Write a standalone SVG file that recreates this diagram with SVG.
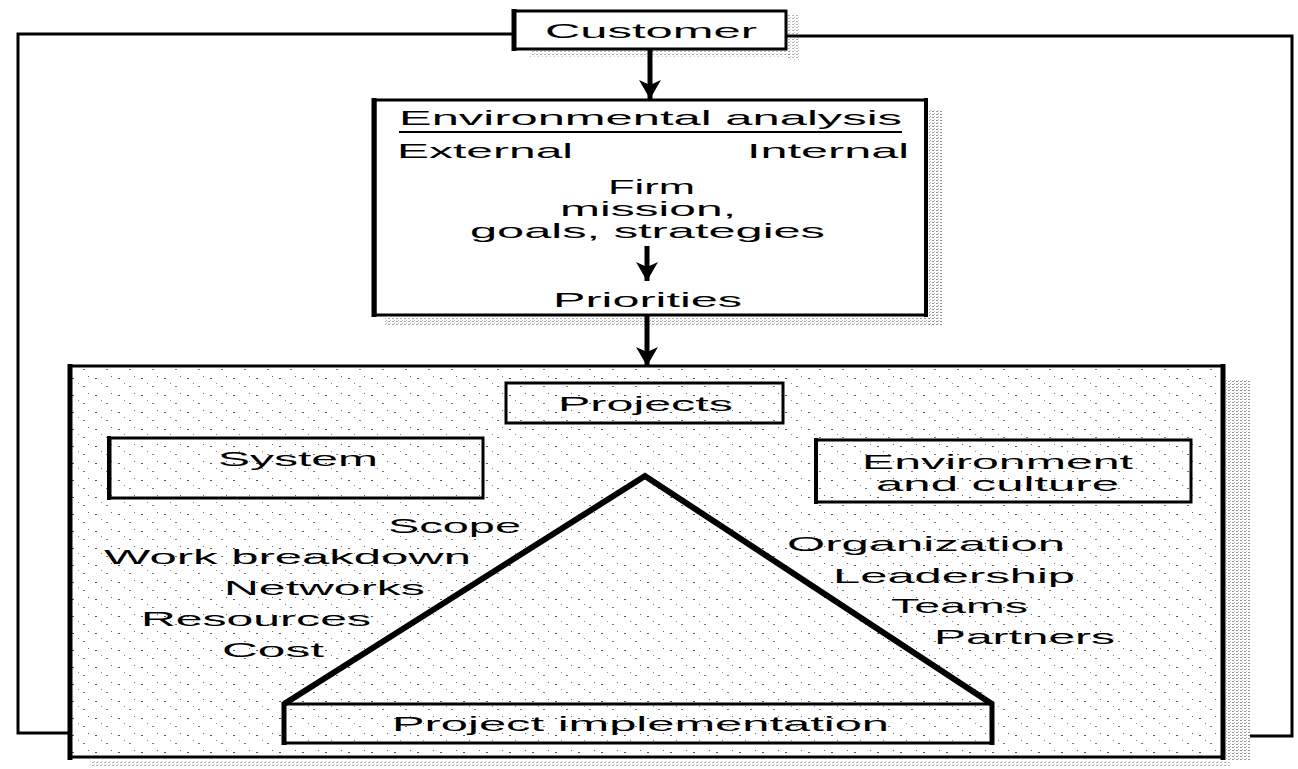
<svg xmlns="http://www.w3.org/2000/svg" width="1298" height="769" viewBox="0 0 1298 769">
<style>
.box{fill:none;stroke:#000;stroke-width:3}
.lbl{font-family:"Liberation Sans",Arial,Helvetica,sans-serif;font-size:21px;fill:#000}
.line{fill:none;stroke:#000;stroke-width:3}
.arr{fill:none;stroke:#000;stroke-width:5;marker-end:url(#ah)}
.tri{fill:none;stroke:#000;stroke-width:6;stroke-linejoin:miter}
</style>
<defs>
<marker id="ah" markerUnits="userSpaceOnUse" markerWidth="26" markerHeight="22" refX="19" refY="11" orient="auto">
<path d="M0,0 L19,11 L0,22 L5,11 z" fill="#000"/>
</marker>
<pattern id="stip" width="23" height="17" patternUnits="userSpaceOnUse">
<rect x="3" y="4" width="2" height="1" fill="#555"/>
<rect x="14" y="12" width="2" height="1" fill="#777"/>
<rect x="19" y="2" width="1" height="1" fill="#666"/>
<rect x="9" y="9" width="1" height="1" fill="#888"/>
</pattern>
<pattern id="shade" width="4" height="3" patternUnits="userSpaceOnUse">
<rect x="0" y="0" width="2" height="1" fill="#666"/>
<rect x="2" y="2" width="1" height="1" fill="#999"/>
</pattern>
</defs>
<rect width="1298" height="769" fill="#fff"/>

<!-- shading strips -->
<rect x="929" y="110" width="13" height="215" fill="url(#shade)" opacity="0.7"/>
<rect x="385" y="318" width="545" height="8" fill="url(#shade)" opacity="0.6"/>
<rect x="1226" y="380" width="24" height="380" fill="url(#shade)" opacity="0.7"/>
<rect x="90" y="760" width="1140" height="6" fill="url(#shade)" opacity="0.5"/>
<rect x="530" y="50" width="260" height="7" fill="url(#shade)" opacity="0.5"/>
<rect x="788" y="15" width="12" height="45" fill="url(#shade)" opacity="0.5"/>

<g id="connectors">
<polyline class="line" points="513,34 18,34 18,733 70,733"/>
<polyline class="line" points="786,36 1292,36 1292,736 1250,736"/>
<line class="arr" x1="650" y1="49" x2="650" y2="99"/>
<line class="arr" x1="647" y1="315" x2="647" y2="366"/>
<line class="arr" x1="644" y1="423" x2="644" y2="474"/>
</g>

<g id="customer">
<rect class="box" x="514" y="11" width="272" height="38" fill="#fff"/>
<line x1="514" y1="9" x2="514" y2="51" stroke="#000" stroke-width="5"/>
<text class="lbl" x="545" y="38" textLength="212" lengthAdjust="spacingAndGlyphs">Customer</text>
</g>

<g id="environmental-analysis">
<rect class="box" x="375" y="100" width="551" height="215" fill="#fff"/>
<line x1="374" y1="98" x2="374" y2="317" stroke="#000" stroke-width="5"/>
<line x1="926" y1="98" x2="926" y2="317" stroke="#000" stroke-width="4"/>
<text class="lbl" x="399" y="125" textLength="503" lengthAdjust="spacingAndGlyphs">Environmental analysis</text>
<line x1="399" y1="132" x2="902" y2="132" stroke="#000" stroke-width="2"/>
<text class="lbl" x="397" y="158" textLength="176" lengthAdjust="spacingAndGlyphs">External</text>
<text class="lbl" x="747" y="158" textLength="162" lengthAdjust="spacingAndGlyphs">Internal</text>
<text class="lbl" x="608" y="194" textLength="87" lengthAdjust="spacingAndGlyphs">Firm</text>
<text class="lbl" x="560" y="216" textLength="176" lengthAdjust="spacingAndGlyphs">mission,</text>
<text class="lbl" x="470" y="238" textLength="355" lengthAdjust="spacingAndGlyphs">goals, strategies</text>
<line class="arr" x1="647" y1="246" x2="647" y2="281"/>
<text class="lbl" x="553" y="307" textLength="189" lengthAdjust="spacingAndGlyphs">Priorities</text>
</g>

<g id="project-area">
<rect x="70" y="366" width="1153" height="391" fill="#fff"/>
<rect x="70" y="366" width="1153" height="391" fill="url(#stip)"/>
<rect class="box" x="70" y="366" width="1153" height="391"/>
<line x1="70" y1="364" x2="70" y2="760" stroke="#000" stroke-width="5"/>
<line x1="1223" y1="364" x2="1223" y2="760" stroke="#000" stroke-width="5"/>
</g>

<g id="projects">
<rect class="box" x="506" y="383" width="277" height="40" fill="#fff"/>
<text class="lbl" x="558" y="411" textLength="175" lengthAdjust="spacingAndGlyphs">Projects</text>
</g>

<g id="system">
<rect class="box" x="110" y="438" width="373" height="60" fill="#fff"/>
<line x1="109" y1="436" x2="109" y2="500" stroke="#000" stroke-width="4"/>
<text class="lbl" x="218" y="466" textLength="160" lengthAdjust="spacingAndGlyphs">System</text>
</g>

<g id="environment-culture">
<rect class="box" x="816" y="440" width="375" height="62" fill="#fff"/>
<line x1="816" y1="438" x2="816" y2="504" stroke="#000" stroke-width="4"/>
<text class="lbl" x="862" y="469" textLength="271" lengthAdjust="spacingAndGlyphs">Environment</text>
<text class="lbl" x="876" y="491" textLength="243" lengthAdjust="spacingAndGlyphs">and culture</text>
</g>

<g id="triangle">
<polyline class="tri" points="284,704 645,476 992,704"/>
</g>

<g id="system-items">
<text class="lbl" x="388" y="533" textLength="133" lengthAdjust="spacingAndGlyphs">Scope</text>
<text class="lbl" x="104" y="564" textLength="367" lengthAdjust="spacingAndGlyphs">Work breakdown</text>
<text class="lbl" x="224" y="595" textLength="201" lengthAdjust="spacingAndGlyphs">Networks</text>
<text class="lbl" x="141" y="626" textLength="230" lengthAdjust="spacingAndGlyphs">Resources</text>
<text class="lbl" x="222" y="657" textLength="102" lengthAdjust="spacingAndGlyphs">Cost</text>
</g>

<g id="culture-items">
<text class="lbl" x="787" y="551" textLength="278" lengthAdjust="spacingAndGlyphs">Organization</text>
<text class="lbl" x="833" y="583" textLength="242" lengthAdjust="spacingAndGlyphs">Leadership</text>
<text class="lbl" x="891" y="613" textLength="137" lengthAdjust="spacingAndGlyphs">Teams</text>
<text class="lbl" x="934" y="644" textLength="181" lengthAdjust="spacingAndGlyphs">Partners</text>
</g>

<g id="project-implementation">
<rect class="box" x="284" y="704" width="708" height="39" fill="#fff"/>
<line x1="284" y1="702" x2="284" y2="745" stroke="#000" stroke-width="5"/>
<line x1="992" y1="702" x2="992" y2="745" stroke="#000" stroke-width="5"/>
<text class="lbl" x="392" y="731" textLength="497" lengthAdjust="spacingAndGlyphs">Project implementation</text>
</g>
</svg>
